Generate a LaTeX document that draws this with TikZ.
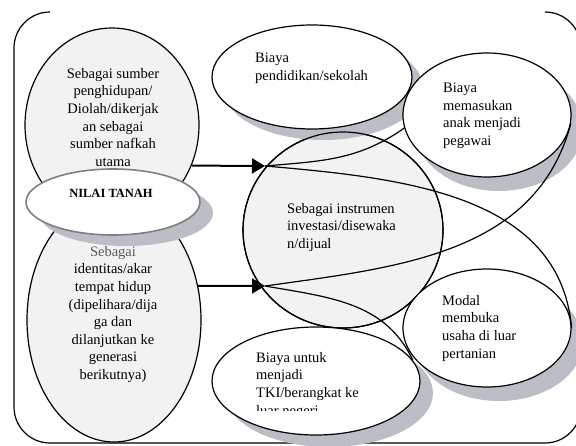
\documentclass[tikz,border=0pt]{standalone}
\usepackage{fontspec}
\setmainfont{Liberation Serif}
\usetikzlibrary{shapes.geometric,arrows.meta}
\definecolor{pale}{HTML}{F2F2F2}
\definecolor{rim}{HTML}{7F7F7F}
\definecolor{shadowtint}{RGB}{188,190,198}

\begin{document}
\begin{tikzpicture}[x=1pt, y=1pt,
  every node/.style={font=\fontsize{14.5}{17.6}\selectfont, inner sep=0pt},
  blob/.style={draw, ellipse, line width=1.2pt},
  grayblob/.style={blob, fill=pale},
  whiteblob/.style={blob, fill=white},
  link/.style={line width=1.2pt},
  push/.style={line width=2pt, -{Triangle[length=13pt,width=15pt]}}]
  \useasboundingbox (0,0) rectangle (576,445);
  \draw[line width=1.2pt] (50,433) arc[start angle=90,end angle=180,radius=36] -- (14,38)
    arc[start angle=180,end angle=270,radius=36] -- (545,2)
    arc[start angle=270,end angle=360,radius=36] -- (581,397)
    arc[start angle=0,end angle=90,radius=36];
  \node[grayblob, minimum width=174pt, minimum height=194pt] (sumber) at (112,320) {};
  \node[anchor=north, align=center] (sumbertxt) at (113,377)
    {Sebagai sumber\\penghidupan/\\Diolah/dikerjak\\an sebagai\\sumber nafkah\\utama};
  \node[grayblob, minimum width=174pt, minimum height=244pt] (identitas) at (114,125) {};
  \fill[shadowtint] (126,232) ellipse (87 and 33);
  \node[whiteblob, draw=rim, line width=1.6pt, minimum width=174pt, minimum height=66pt] (nilai) at (113,243) {};
  \node[font=\fontsize{12.5}{15}\selectfont\bfseries] (nilaitxt) at (111,252) {NILAI TANAH};
  \node[anchor=north, align=center] (identitastxt) at (113,199)
    {\textcolor{black!65}{Sebagai}\\identitas/akar\\tempat hidup\\(dipelihara/dija\\ga dan\\dilanjutkan ke\\generasi\\berikutnya)};
  \node[grayblob, minimum width=200pt, minimum height=196pt] (invest) at (343,215) {};
  \node[anchor=north west, align=left] (investtxt) at (287,242)
    {Sebagai instrumen\\investasi/disewaka\\n/dijual};
  \fill[shadowtint] (323,357) ellipse (100 and 52);
  \node[whiteblob, minimum width=200pt, minimum height=104pt] (sekolah) at (312,368) {};
  \draw[line width=1.2pt] (invest.center) ellipse (100 and 98);
  \node[anchor=north west, align=left] (sekolahtxt) at (255,392) {Biaya\\pendidikan/sekolah};
  \fill[shadowtint] (499,316) ellipse (84 and 62);
  \node[whiteblob, minimum width=168pt, minimum height=124pt] (pegawai) at (487,330) {};
  \node[anchor=north west, align=left] (pegawaitxt) at (443,362)
    {Biaya\\memasukan\\anak menjadi\\pegawai};
  \fill[shadowtint] (499,103) ellipse (84 and 59);
  \node[whiteblob, minimum width=168pt, minimum height=118pt] (modal) at (487,117) {};
  \node[anchor=north west, align=left] (modaltxt) at (442,150)
    {Modal\\membuka\\usaha di luar\\pertanian};
  \fill[shadowtint] (329,52) ellipse (104 and 54);
  \node[whiteblob, minimum width=208pt, minimum height=108pt] (tki) at (316,64) {};
  \begin{scope}
    \clip (250,35) rectangle (430,100);
    \node[anchor=north west, align=left] (tkitxt) at (256,93)
      {Biaya untuk\\menjadi\\TKI/berangkat ke\\luar negeri};
  \end{scope}
  \coordinate (tip1) at (265,279);
  \coordinate (tip2) at (265,159);
  \draw[push] (sumber.-27.5) -- (tip1);
  \draw[push] (identitas.22.1) -- (tip2);
  \draw[link] (tip1) to[out=5,in=215] (pegawai.189);
  \draw[link] (tip1) to[out=-5,in=95] (modal.east);
  \draw[link] (tip2) to[out=8,in=-105] (pegawai.-6);
  \draw[link] (tip2) to[out=-10,in=115] (tki.12);
\end{tikzpicture}
\end{document}
